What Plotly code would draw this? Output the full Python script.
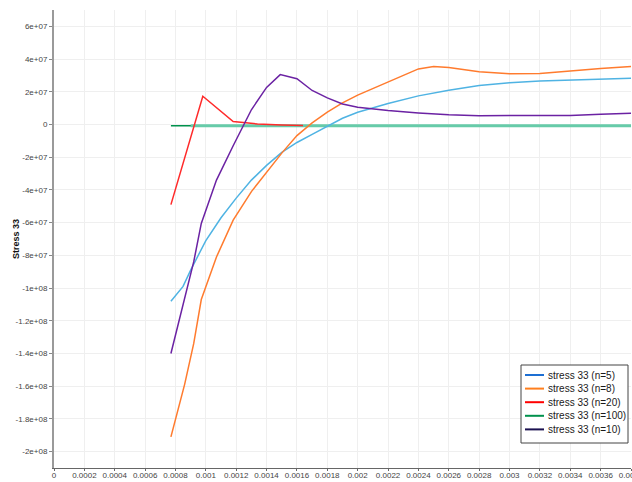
import plotly.graph_objects as go

# ---- data -------------------------------------------------------------
x_n5 = [0.00077, 0.00085, 0.0009, 0.001, 0.0011, 0.0012, 0.0013, 0.0014, 0.0015,
        0.0016, 0.0017, 0.0018, 0.0019, 0.002, 0.0022, 0.0024, 0.0026, 0.0028,
        0.003, 0.0032, 0.0034, 0.0036, 0.0038]
y_n5 = [-1.08e8, -9.9e7, -8.9e7, -7.1e7, -5.7e7, -4.5e7, -3.4e7, -2.5e7, -1.7e7,
        -1.1e7, -6.0e6, -1.0e6, 3.8e6, 7.5e6, 1.28e7, 1.75e7, 2.1e7, 2.38e7,
        2.56e7, 2.66e7, 2.73e7, 2.79e7, 2.83e7]

x_n8 = [0.00077, 0.00086, 0.00092, 0.00097, 0.00107, 0.00118, 0.0013, 0.0014,
        0.0015, 0.0016, 0.0017, 0.0018, 0.0019, 0.002, 0.0022, 0.0024, 0.0025,
        0.0026, 0.0028, 0.003, 0.0032, 0.0034, 0.0036, 0.0038]
y_n8 = [-1.91e8, -1.59e8, -1.34e8, -1.07e8, -8.1e7, -5.85e7, -4.1e7, -2.95e7,
        -1.75e7, -6.8e6, 1.0e6, 7.5e6, 1.32e7, 1.8e7, 2.6e7, 3.4e7, 3.55e7,
        3.48e7, 3.22e7, 3.1e7, 3.12e7, 3.28e7, 3.42e7, 3.55e7]

x_n20 = [0.00077, 0.00098, 0.00118, 0.00134, 0.0015, 0.00164]
y_n20 = [-4.9e7, 1.73e7, 1.8e6, 3.0e5, -3.0e5, -6.0e5]

x_n100 = [0.00077, 0.0009, 0.0012, 0.0016, 0.002, 0.0024, 0.0028, 0.0032, 0.0036, 0.0038]
y_n100 = [-8.0e5, -8.0e5, -8.0e5, -8.0e5, -8.0e5, -8.0e5, -8.0e5, -8.0e5, -8.0e5, -8.0e5]

x_n10 = [0.00077, 0.00086, 0.00092, 0.00097, 0.00107, 0.00118, 0.0013, 0.0014,
         0.00149, 0.0016, 0.0017, 0.0018, 0.0019, 0.002, 0.0022, 0.0024, 0.0026,
         0.0028, 0.003, 0.0032, 0.0034, 0.0036, 0.0038]
y_n10 = [-1.40e8, -1.07e8, -8.4e7, -6.05e7, -3.4e7, -1.3e7, 9.0e6, 2.27e7,
         3.05e7, 2.8e7, 2.08e7, 1.63e7, 1.25e7, 1.06e7, 8.5e6, 7.0e6, 5.9e6,
         5.4e6, 5.3e6, 5.3e6, 5.5e6, 6.2e6, 6.9e6]

series_names = ["stress 33 (n=5)", "stress 33 (n=8)", "stress 33 (n=20)",
                "stress 33 (n=100)", "stress 33 (n=10)"]
line_colors = ["#4fb3e3", "#ff7b2e", "#ff2a2a", "#66cba9", "#6b22a3"]
key_colors = ["#1d6fd3", "#ff7f1e", "#ff0000", "#00914c", "#1b1150"]

x_tickvals = [i * 0.0002 for i in range(20)]
x_ticktext = ["0", "0.0002", "0.0004", "0.0006", "0.0008", "0.001", "0.0012",
              "0.0014", "0.0016", "0.0018", "0.002", "0.0022", "0.0024", "0.0026",
              "0.0028", "0.003", "0.0032", "0.0034", "0.0036", "0.0038"]
y_tickvals = [-2e8, -1.8e8, -1.6e8, -1.4e8, -1.2e8, -1e8, -8e7, -6e7, -4e7, -2e7,
              0, 2e7, 4e7, 6e7]
y_ticktext = ["-2e+08", "-1.8e+08", "-1.6e+08", "-1.4e+08", "-1.2e+08", "-1e+08",
              "-8e+07", "-6e+07", "-4e+07", "-2e+07", "0", "2e+07", "4e+07", "6e+07"]

# ---- figure -----------------------------------------------------------
W, H = 632, 482
ML, MR, MT, MB = 54, 1, 10, 14
PW, PH = W - ML - MR, H - MT - MB

fig = go.Figure()

# green series: thin dark start under a wide teal band
fig.add_trace(go.Scatter(x=x_n100, y=y_n100, mode="lines",
                         line=dict(color=key_colors[3], width=1.5),
                         showlegend=False, hoverinfo="skip"))
fig.add_trace(go.Scatter(x=x_n100[1:], y=y_n100[1:], mode="lines",
                         line=dict(color=line_colors[3], width=3),
                         name=series_names[3], showlegend=False))

for xs, ys, nm, col in [(x_n5, y_n5, series_names[0], line_colors[0]),
                        (x_n8, y_n8, series_names[1], line_colors[1]),
                        (x_n20, y_n20, series_names[2], line_colors[2]),
                        (x_n10, y_n10, series_names[4], line_colors[4])]:
    fig.add_trace(go.Scatter(x=xs, y=ys, mode="lines", name=nm,
                             line=dict(color=col, width=1.5), showlegend=False))


def px_x(p):
    return (p - ML) / PW


def px_y(p):
    return (H - MB - p) / PH


# key box
shapes = [dict(type="rect", xref="paper", yref="paper",
               x0=px_x(521), x1=px_x(628), y0=px_y(443), y1=px_y(365),
               line=dict(color="#444444", width=1), fillcolor="white", layer="above")]
annotations = []
for i, (nm, col) in enumerate(zip(series_names, key_colors)):
    cy = 375 + i * 13.6
    shapes.append(dict(type="line", xref="paper", yref="paper",
                       x0=px_x(525), x1=px_x(544), y0=px_y(cy), y1=px_y(cy),
                       line=dict(color=col, width=2), layer="above"))
    annotations.append(dict(xref="paper", yref="paper", x=px_x(546), y=px_y(cy),
                            xanchor="left", yanchor="middle", showarrow=False,
                            text=nm, font=dict(size=10, color="#1a1a1a",
                                               family="Liberation Sans, Arial")))

annotations.append(dict(xref="paper", yref="paper", x=px_x(16), y=px_y(239),
                        xanchor="center", yanchor="middle", showarrow=False,
                        textangle=-90, text="<b>Stress 33</b>",
                        font=dict(size=9, color="#111111",
                                  family="Liberation Sans, Arial")))

fig.update_layout(
    width=W, height=H,
    margin=dict(l=ML, r=MR, t=MT, b=MB, pad=0),
    paper_bgcolor="white", plot_bgcolor="white",
    font=dict(family="Liberation Sans, Arial", size=8, color="#444444"),
    showlegend=False,
    shapes=shapes, annotations=annotations,
    xaxis=dict(range=[0, 0.0038], tickvals=x_tickvals, ticktext=x_ticktext,
               showgrid=True, gridcolor="#efefef", gridwidth=1, zeroline=False,
               showline=True, linecolor="#666666", linewidth=1,
               ticks="outside", ticklen=2, tickcolor="#666666",
               ticklabelstandoff=-3, ticklabeloverflow="allow",
               tickfont=dict(size=8, color="#444444"), automargin=False),
    yaxis=dict(range=[-2.1e8, 7e7], tickvals=y_tickvals, ticktext=y_ticktext,
               showgrid=True, gridcolor="#efefef", gridwidth=1, zeroline=False,
               showline=True, linecolor="#9a9a9a", linewidth=2,
               ticks="outside", ticklen=3, tickcolor="#888888",
               tickfont=dict(size=8, color="#444444"), automargin=False),
)

fig.write_html("out.html")
